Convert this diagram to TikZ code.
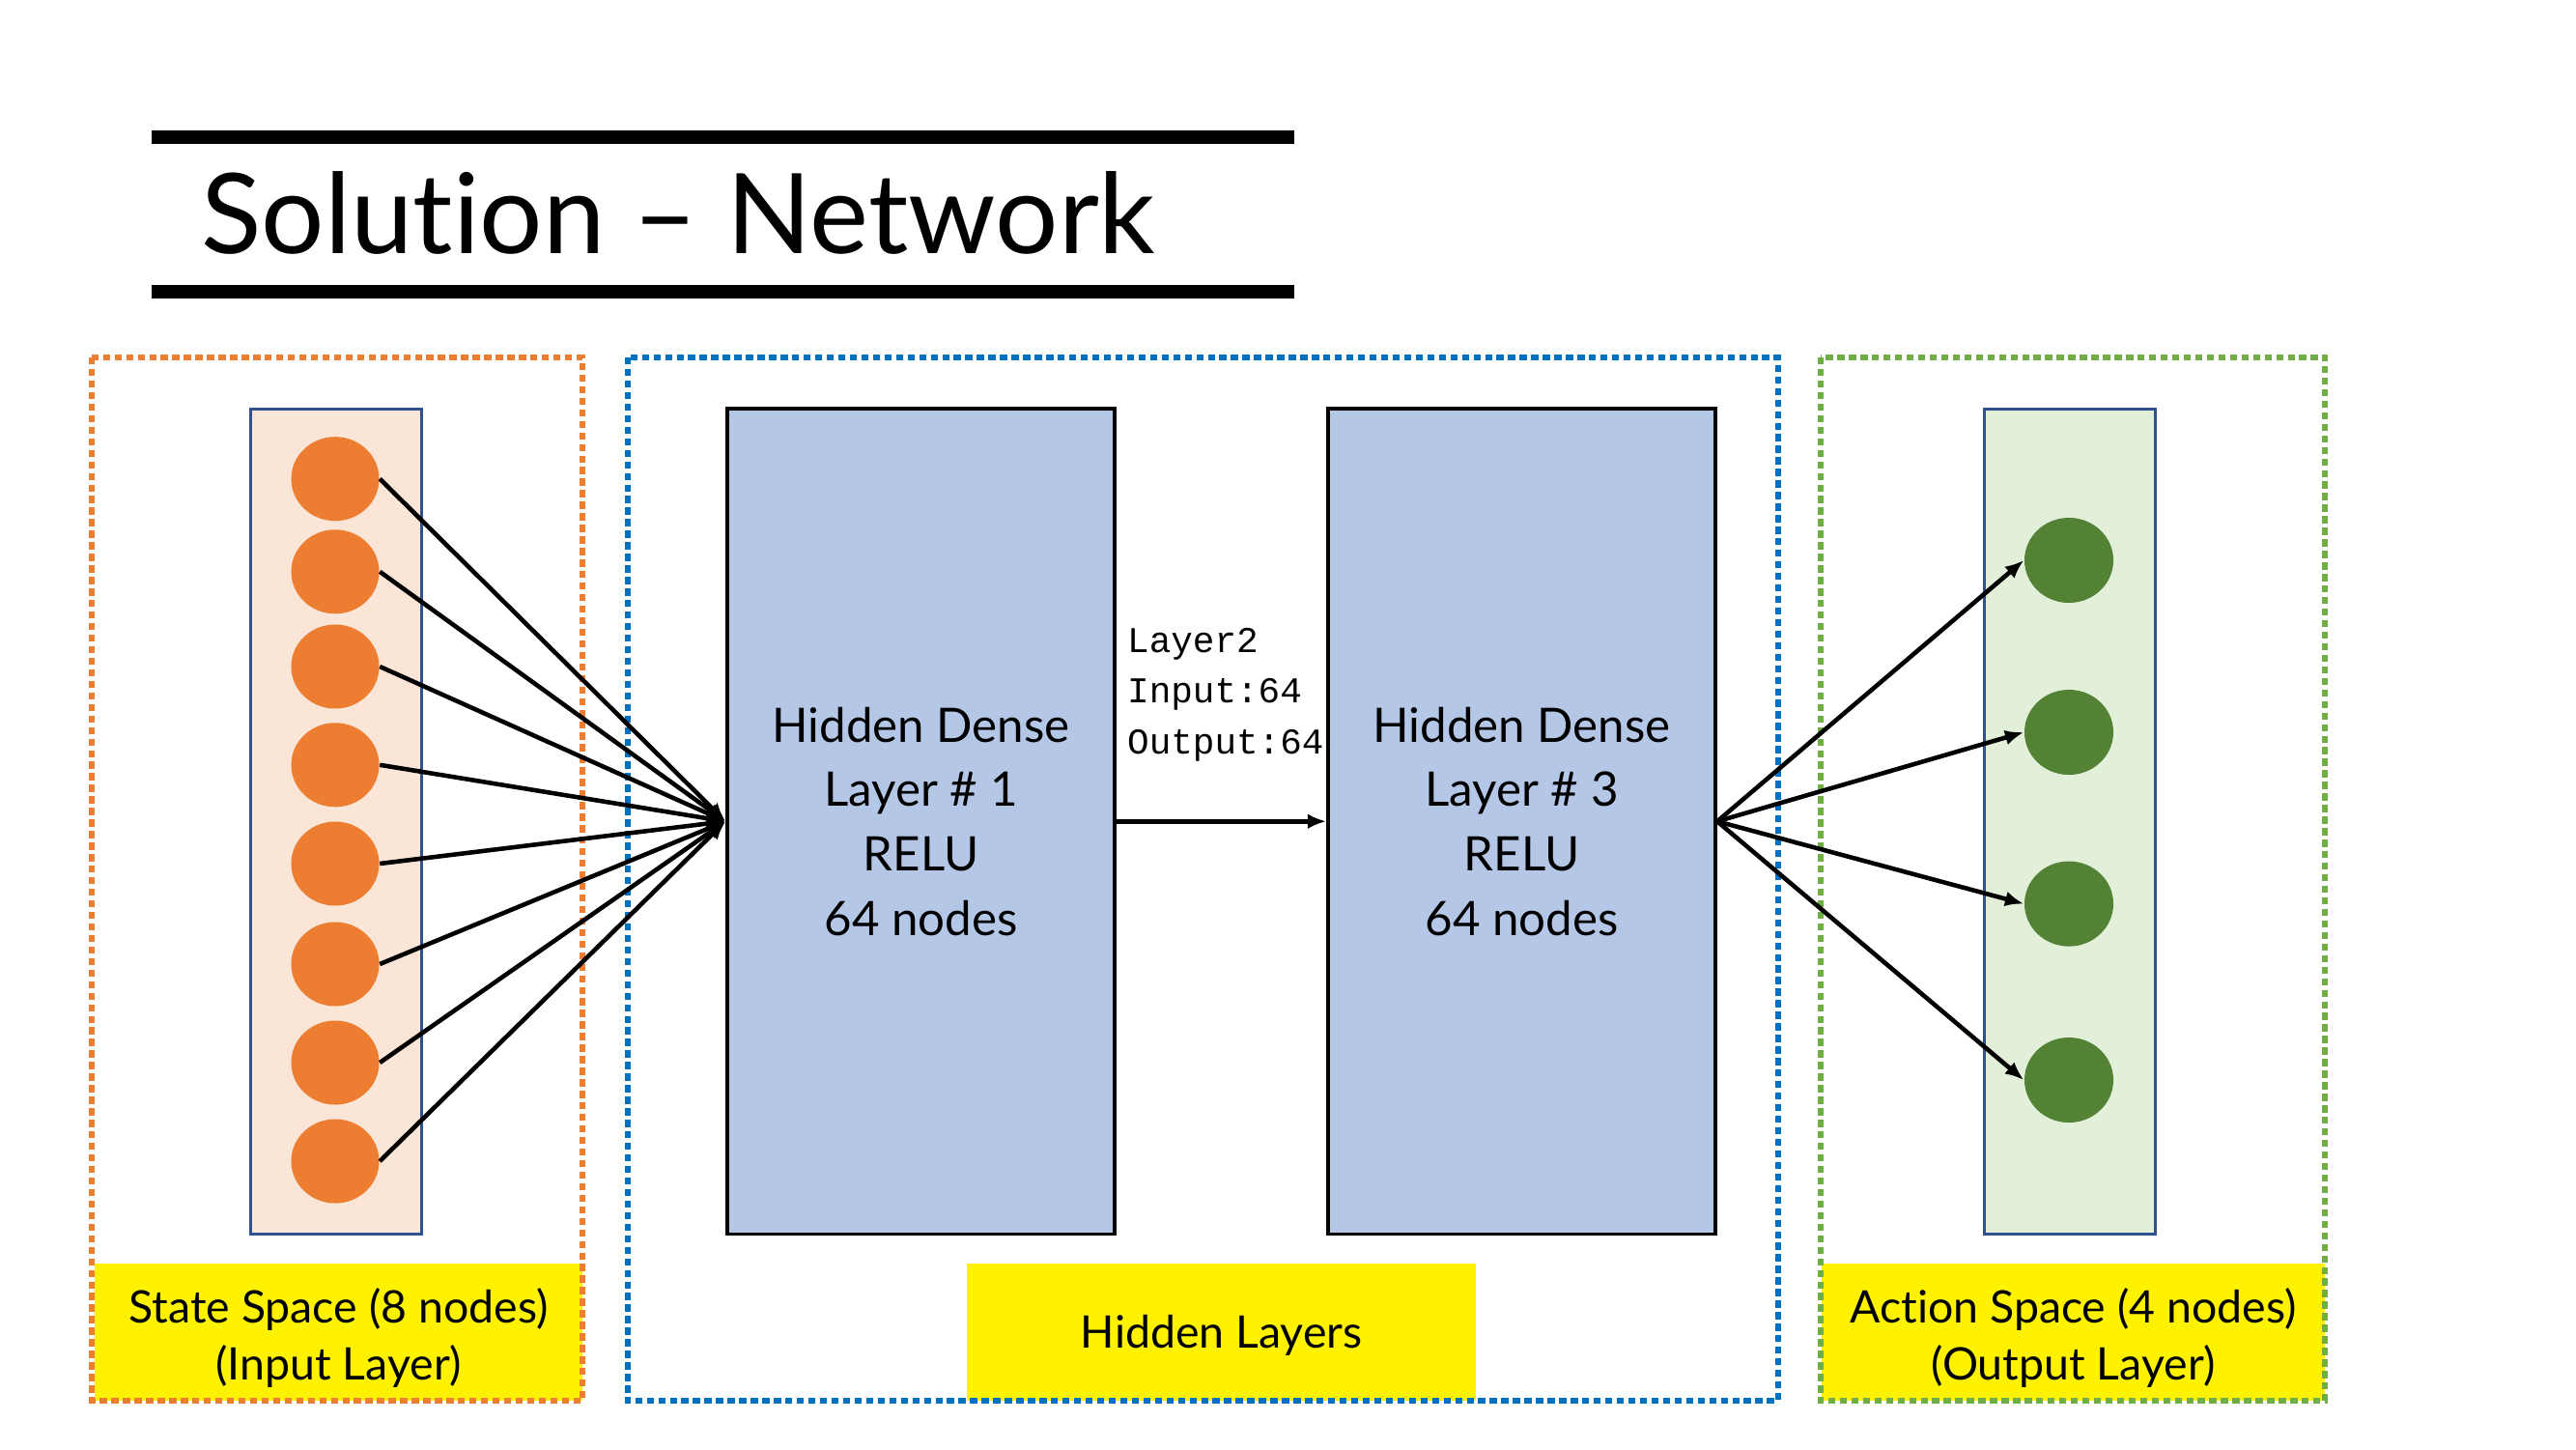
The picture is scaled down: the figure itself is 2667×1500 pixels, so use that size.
\documentclass[tikz,border=0pt]{standalone}
\usepackage{fontspec}
\setmainfont{Lato}[Ligatures={NoCommon,NoContextual}]
\setmonofont{Liberation Mono}
\usetikzlibrary{arrows.meta,shapes.geometric}
\definecolor{orangeC}{HTML}{ED7D31}
\definecolor{blueC}{HTML}{0070C0}
\definecolor{greenC}{HTML}{70AD47}
\definecolor{inFill}{HTML}{FBE5D6}
\definecolor{outFill}{HTML}{E2F0D9}
\definecolor{hidFill}{HTML}{B4C7E7}
\definecolor{darkGreen}{HTML}{548235}
\definecolor{rectBorder}{HTML}{2F528F}
\begin{document}
\begin{tikzpicture}[x=0.01cm,y=-0.01cm,
  dashbox/.style={line width=1.7pt, dash pattern=on 2.1pt off 1.3pt},
  ybox/.style={fill=yellow, inner sep=0, minimum width=#1},
  lbl/.style={inner sep=0, align=center, font={\fontsize{13.2}{17}\selectfont}},
  layercol/.style={draw=rectBorder, line width=0.9pt, inner sep=0, minimum width=1.767cm, minimum height=8.535cm},
  neuronIn/.style={ellipse, fill=orangeC, inner sep=0, minimum width=0.91cm, minimum height=0.87cm},
  neuronOut/.style={ellipse, fill=darkGreen, inner sep=0, minimum width=0.92cm, minimum height=0.88cm},
  hidden/.style={draw=black, line width=1pt, fill=hidFill, inner sep=0, minimum width=4.01cm, minimum height=8.535cm, align=center, font={\fontsize{14}{18.95}\selectfont}},
  conn/.style={line width=1.3pt, -{Latex[length=5.5pt,width=4.5pt]}}
]
\useasboundingbox (0,0) rectangle (2667,1500);
% title
\fill (157,135) rectangle (1340,149);
\fill (157,295) rectangle (1340,309);
\node[anchor=base west, inner sep=0, font={\fontsize{32.8}{40}\selectfont}] (title) at (207.6,262.3) {Solution – Network};
% yellow labels
\node[ybox=5.05cm, minimum height=1.42cm] (ys) at (350.5,1379) {};
\node[ybox=5.262cm, minimum height=1.42cm] (yh) at (1264.7,1379) {};
\node[ybox=5.21cm, minimum height=1.42cm] (ya) at (2146.5,1379) {};
% dashed boxes
\draw[dashbox, draw=orangeC] (95.4,370) rectangle (603,1450);
\draw[dashbox, draw=blueC] (649.6,370) rectangle (1840.6,1450);
\draw[dashbox, draw=greenC] (1884.8,370) rectangle (2407.4,1450);
% label texts
\node[lbl] (ts) at (350.5,1385) {State Space (8 nodes)\\(Input Layer)};
\node[lbl, anchor=base] (th) at (1264.7,1395.4) {Hidden Layers};
\node[lbl] (ta) at (2146.5,1385) {Action Space (4 nodes)\\(Output Layer)};
% input column
\node[layercol, fill=inFill] (incol) at (348,850.25) {};
\foreach \i/\y in {1/495.7,2/591.8,3/690,4/791.8,5/894,6/998,7/1100,8/1202}
  \node[neuronIn] (i\i) at (347,\y) {};
% output column
\node[layercol, fill=outFill] (outcol) at (2143,850.25) {};
\foreach \i/\y in {1/580,2/758,3/935.6,4/1118}
  \node[neuronOut] (o\i) at (2142,\y) {};
% hidden layers
\node[hidden] (h1) at (953.5,850.25) {Hidden Dense\\Layer \# 1\\RELU\\64 nodes};
\node[hidden] (h3) at (1575.5,850.25) {Hidden Dense\\Layer \# 3\\RELU\\64 nodes};
\node[anchor=base west, inner sep=0, align=left, font={\ttfamily\fontsize{10.7}{15}\selectfont}] (l2) at (1166.5,780.5) {Layer2\\Input:64\\Output:64};
% connectors
\foreach \i in {1,...,8}
  \draw[conn] (i\i.east) -- (h1.west);
\draw[conn] (h1.east) -- (h3.west);
\foreach \i in {1,...,4}
  \draw[conn] (h3.east) -- (o\i.west);
\end{tikzpicture}
\end{document}
